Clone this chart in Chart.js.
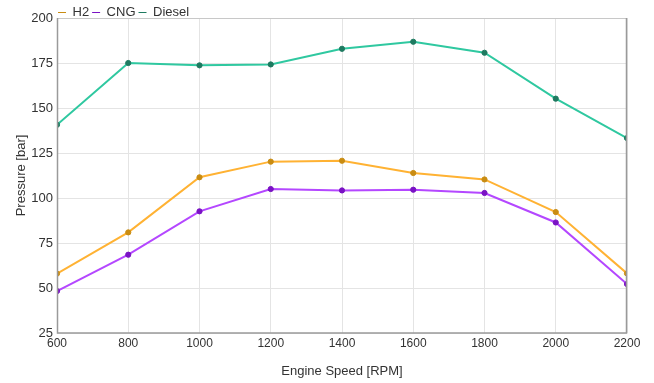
<!DOCTYPE html>
<html>
<head>
<meta charset="utf-8">
<script src="https://cdn.jsdelivr.net/npm/chart.js@4.4.0/dist/chart.umd.min.js"></script>
<style>
  html, body { margin: 0; padding: 0; background: #fff; }
  #wrap { width: 654px; height: 383px; }
</style>
</head>
<body>
<div id="wrap"><canvas id="c" width="654" height="383"></canvas></div>
<script>
const speeds = [600, 800, 1000, 1200, 1400, 1600, 1800, 2000, 2200];
const h2 = [58.0, 80.9, 111.5, 120.2, 120.7, 113.9, 110.3, 92.2, 58.1];
const cng = [48.3, 68.5, 92.6, 105.0, 104.2, 104.6, 102.8, 86.4, 52.2];
const diesel = [140.7, 175.0, 173.7, 174.2, 182.9, 186.8, 180.7, 155.2, 133.3];
const seriesNames = ['H2', 'CNG', 'Diesel'];
const yTicks = [25, 50, 75, 100, 125, 150, 175, 200];

const FONT = "'Liberation Sans', Arial, sans-serif";
const toXY = arr => speeds.map((s, i) => ({ x: s, y: arr[i] }));

function ds(label, values, line, point) {
  return {
    label, data: toXY(values),
    borderColor: line, backgroundColor: line,
    borderWidth: 2,
    pointRadius: 2.6, pointBackgroundColor: point, pointBorderColor: point,
    pointBorderWidth: 1, tension: 0
  };
}

const frame = {
  id: 'frame',
  afterLayout(chart) { chart.legend.left -= 2; chart.legend.top += 3; },
  afterDatasetsDraw(chart) {
    const a = chart.chartArea, ctx = chart.ctx;
    ctx.save();
    ctx.strokeStyle = '#c8c8c8';
    ctx.lineWidth = 1;
    ctx.beginPath();
    ctx.moveTo(a.left, a.top + 0.5); ctx.lineTo(a.right, a.top + 0.5);
    ctx.stroke();
    ctx.strokeStyle = '#9a9a9a';
    ctx.lineWidth = 1.5;
    ctx.beginPath();
    ctx.moveTo(a.left + 0.5, a.top); ctx.lineTo(a.left + 0.5, a.bottom);
    ctx.lineTo(a.right - 0.5, a.bottom); ctx.lineTo(a.right - 0.5, a.top);
    ctx.stroke();
    ctx.restore();
  }
};

new Chart(document.getElementById('c'), {
  type: 'line',
  data: {
    datasets: [
      ds(seriesNames[0], h2, '#FFB233', '#C98C12'),
      ds(seriesNames[1], cng, '#B447FF', '#7A12C4'),
      ds(seriesNames[2], diesel, '#2FC8A0', '#1E7A60')
    ]
  },
  options: {
    responsive: false, animation: false,
    layout: { padding: { left: 0, right: 27, top: 0, bottom: 0 } },
    plugins: {
      legend: {
        position: 'top', align: 'start', fullSize: false, maxHeight: 18,
        labels: {
          usePointStyle: true, pointStyle: 'line', pointStyleWidth: 8, boxHeight: 8,
          padding: 3, color: '#333', font: { family: FONT, size: 13 }
        }
      },
      tooltip: { enabled: false }
    },
    scales: {
      x: {
        type: 'linear', min: speeds[0], max: speeds[speeds.length - 1],
        ticks: { stepSize: 200, color: '#333', font: { family: FONT, size: 12 }, padding: 3, maxRotation: 0,
                 callback: v => String(v) },
        grid: { color: '#e4e4e4', drawTicks: false },
        border: { display: false },
        title: { display: true, text: 'Engine Speed [RPM]', color: '#333', font: { family: FONT, size: 13 }, padding: { top: 6, bottom: 4 } },
        afterFit(s) { s.height = 50; }
      },
      y: {
        min: yTicks[0], max: yTicks[yTicks.length - 1],
        afterBuildTicks(s) { s.ticks = yTicks.map(v => ({ value: v })); },
        ticks: { color: '#333', font: { family: FONT, size: 13 }, padding: 4 },
        grid: { color: '#e4e4e4', drawTicks: false },
        border: { display: false },
        title: { display: true, text: 'Pressure [bar]', color: '#333', font: { family: FONT, size: 13 }, padding: { top: 14, bottom: 4 } },
        afterFit(s) { s.width = 57; }
      }
    }
  },
  plugins: [frame]
});
</script>
</body>
</html>
